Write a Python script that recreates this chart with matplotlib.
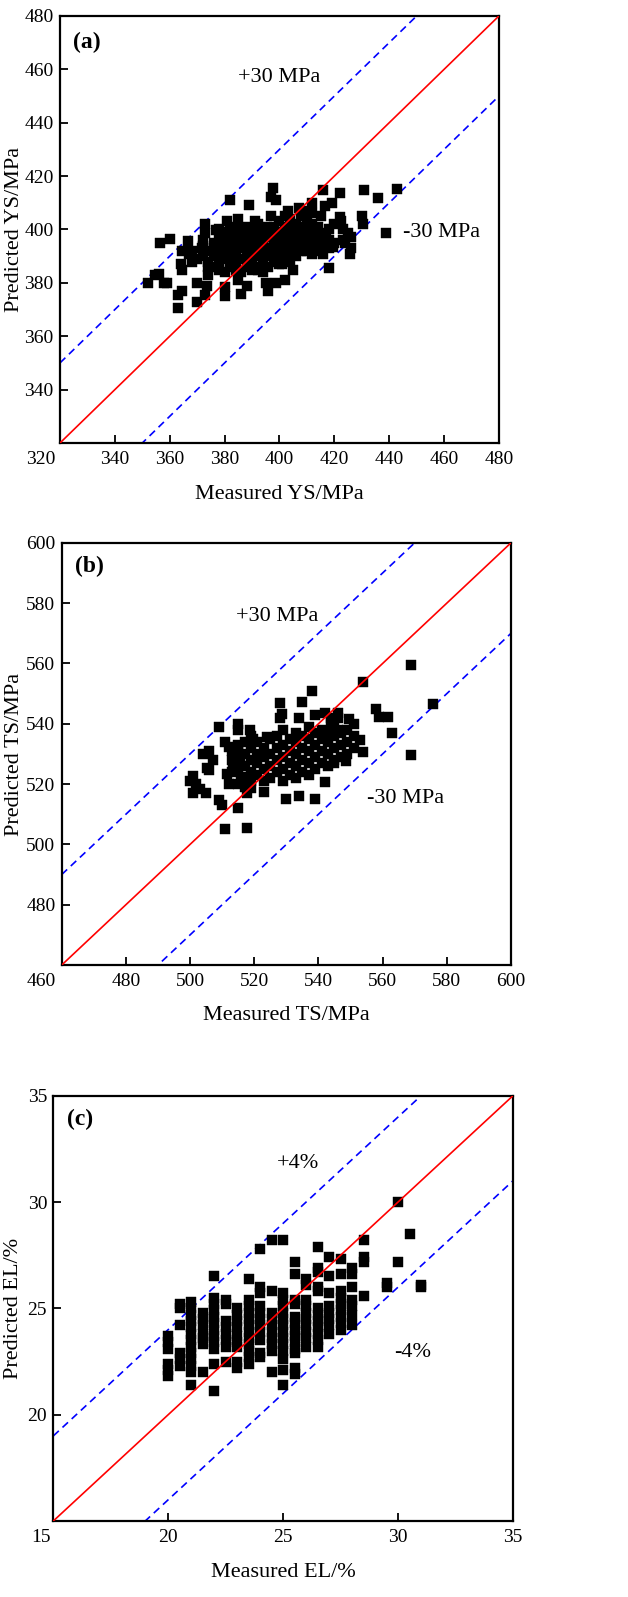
import matplotlib
matplotlib.use("Agg")
import matplotlib.pyplot as plt
from matplotlib.transforms import ScaledTranslation

plt.rcParams['font.family'] = ['Liberation Serif', 'DejaVu Serif']

# (a) yield strength, MPa
ys_meas = [352, 354.6, 356.5, 356, 358, 359, 360, 363, 363, 364.5, 364.3, 364, 364.5, 366.6, 367,
           370, 370, 370, 371.8, 373, 373, 373, 373.5, 374, 376, 377, 378, 380, 380, 380.7, 381, 382,
           383, 383, 385, 385, 386, 387, 388, 388.8, 390, 391, 392, 394, 395, 395.3, 396, 396.8, 396.8,
           397.8, 398.8, 398.8, 401, 402, 402, 403, 405, 407, 407.5, 410, 411.7, 413, 415, 415.7, 416.5,
           417, 418, 419, 419.6, 422, 422, 422.6, 424, 425, 425.7, 430, 430.5, 430.8, 435.8, 438.8, 442.7,
           # dense middle of the cloud
           368, 368, 372, 372, 372, 374, 374, 374, 376, 376, 376, 378, 378, 378, 378, 378,
           380, 380, 380, 380, 380, 382, 382, 382, 382, 382, 384, 384, 384, 384, 384, 384,
           386, 386, 386, 386, 386, 388, 388, 388, 388, 388, 390, 390, 390, 390, 390, 390,
           392, 392, 392, 392, 392, 392, 394, 394, 394, 394, 394, 396, 396, 396, 396, 396,
           398, 398, 398, 398, 398, 400, 400, 400, 400, 400, 400, 402, 402, 402, 402, 402,
           404, 404, 404, 404, 404, 404, 406, 406, 406, 406, 406, 408, 408, 408, 408, 408,
           410, 410, 410, 410, 410, 412, 412, 412, 412, 412, 414, 414, 414, 414, 416, 416, 416,
           418, 418, 418, 420, 420, 423, 423, 426, 426]
ys_pred = [380, 383, 395, 383.5, 380, 380, 396.6, 370.5, 375.5, 377, 385, 387, 392, 395.5, 391,
           373, 380, 389, 393, 402, 398.5, 375.5, 379, 386, 393, 399.7, 385, 375, 378.6, 391, 403, 411,
           398.5, 388.6, 404, 381, 376, 400, 379, 409, 392.5, 403, 385, 394, 380, 401, 377, 405, 412,
           415.4, 411, 380, 387, 381, 405, 407, 385, 408, 400, 392, 410, 392.5, 405, 414.8, 408.7,
           398.6, 385.6, 410, 393.6, 413.8, 404.8, 403, 395, 398.6, 391, 405, 402, 414.8, 411.7, 398.6, 415,
           388, 392, 390, 394, 396, 383, 388, 392, 386, 390, 395, 387, 391, 394, 397, 400,
           384, 389, 393, 396, 399, 386, 390, 394, 397, 400, 385, 388, 392, 395, 398, 401,
           384, 389, 393, 396, 399, 386, 390, 394, 397, 401, 385, 388, 391, 395, 398, 400,
           386, 390, 393, 396, 399, 402, 384, 388, 392, 395, 398, 386, 390, 393, 397, 400,
           388, 391, 394, 397, 401, 387, 390, 393, 396, 399, 403, 389, 392, 395, 398, 401,
           388, 391, 394, 397, 400, 404, 390, 393, 396, 399, 402, 392, 395, 398, 401, 405,
           394, 397, 400, 403, 407, 391, 396, 399, 402, 406, 392, 395, 398, 401, 391, 394, 397,
           393, 396, 400, 395, 402, 396, 400, 393, 397]

# (b) tensile strength, MPa
ts_meas = [500, 500.8, 502, 503, 500.8, 505, 504, 506, 505.4, 506, 507, 509, 509, 510, 511, 511,
           512, 511.6, 512, 513.5, 515, 515, 515, 515, 515.6, 516, 517.6, 517.8, 518.6, 519, 519.7,
           523, 524, 528, 528.7, 528, 530, 534, 534, 535, 538, 539, 539, 542, 542, 545, 546, 548.5,
           549.6, 552.8, 553.8, 553.8, 557.8, 558.9, 561.7, 563, 568.7, 568.7, 575.6,
           # dense middle of the cloud
           513, 513, 513, 515, 515, 515, 515, 517, 517, 517, 517, 517, 519, 519, 519, 519, 519,
           521, 521, 521, 521, 523, 523, 523, 523, 525, 525, 525, 525, 527, 527, 527, 527,
           529, 529, 529, 529, 529, 531, 531, 531, 531, 533, 533, 533, 533, 533, 535, 535, 535, 535,
           537, 537, 537, 537, 537, 539, 539, 539, 539, 541, 541, 541, 541, 543, 543, 543, 543,
           545, 545, 545, 545, 547, 547, 547, 549, 549, 549, 551, 551, 551, 544, 544, 546, 546]
ts_pred = [521, 522.7, 520, 518.5, 517, 517, 530, 531, 525.5, 524.6, 528, 539, 514.7, 513, 505, 534,
           532.4, 523.5, 520, 527, 512, 540, 538, 532.4, 528, 522.4, 517, 505.6, 538, 518.6, 535,
           517.5, 535.7, 547, 543.4, 541.8, 515, 516, 542, 547.3, 551, 515, 543, 520.8, 543.5, 527, 543.5, 527.6,
           541.5, 534.6, 530.7, 554, 545, 542.3, 542.3, 537, 559.4, 529.6, 546.7,
           524, 528, 531, 520, 525, 529, 533, 522, 526, 530, 534, 519, 521, 524, 528, 532, 536,
           523, 527, 530, 534, 521, 525, 529, 532, 522, 526, 530, 535, 524, 528, 532, 536,
           521, 525, 529, 533, 538, 523, 527, 531, 535, 522, 526, 530, 534, 537, 524, 528, 532, 536,
           523, 527, 531, 535, 539, 525, 529, 533, 537, 527, 531, 535, 538, 526, 530, 534, 537,
           528, 532, 536, 540, 529, 533, 537, 530, 534, 538, 532, 536, 540, 540, 542, 542, 538]

# (c) elongation, %
el_meas = [20, 20, 20, 20, 20, 20,
           20.5, 20.5, 20.5, 20.5, 20.5, 20.5,
           21, 21, 21, 21, 21, 21, 21, 21, 21, 21, 21, 21, 21,
           21.5, 21.5, 21.5, 21.5, 21.5, 21.5, 21.5,
           22, 22, 22, 22, 22, 22, 22, 22, 22, 22, 22, 22,
           22.5, 22.5, 22.5, 22.5, 22.5, 22.5, 22.5, 22.5,
           23, 23, 23, 23, 23, 23, 23, 23, 23,
           23.5, 23.5, 23.5, 23.5, 23.5, 23.5, 23.5, 23.5, 23.5, 23.5, 23.5, 23.5,
           24, 24, 24, 24, 24, 24, 24, 24, 24, 24, 24,
           24.5, 24.5, 24.5, 24.5, 24.5, 24.5, 24.5, 24.5, 24.5, 24.5,
           25, 25, 25, 25, 25, 25, 25, 25, 25, 25, 25, 25, 25, 25,
           25.5, 25.5, 25.5, 25.5, 25.5, 25.5, 25.5, 25.5, 25.5, 25.5, 25.5, 25.5, 25.5,
           26, 26, 26, 26, 26, 26, 26, 26, 26, 26,
           26.5, 26.5, 26.5, 26.5, 26.5, 26.5, 26.5, 26.5, 26.5, 26.5, 26.5, 26.5,
           27, 27, 27, 27, 27, 27, 27, 27,
           27.5, 27.5, 27.5, 27.5, 27.5, 27.5, 27.5, 27.5, 27.5,
           28, 28, 28, 28, 28, 28, 28,
           28.5, 28.5, 28.5, 28.5,
           29.5, 29.5, 30, 30, 30.5, 31, 31]
el_pred = [23.1, 23.4, 23.7, 21.8, 22.1, 22.4,
           25.0, 25.2, 24.2, 22.3, 22.6, 22.9,
           25.3, 25.0, 24.7, 24.4, 24.1, 23.8, 23.5, 23.2, 22.9, 22.6, 22.3, 22.0, 21.4,
           24.2, 24.5, 24.8, 23.3, 23.6, 23.8, 22.0,
           26.5, 25.5, 25.2, 24.9, 24.6, 24.3, 24.0, 23.7, 23.4, 23.1, 22.4, 21.1,
           25.2, 25.4, 24.4, 24.1, 23.8, 23.5, 23.2, 22.5,
           25.0, 24.7, 24.4, 24.1, 23.7, 23.4, 23.2, 22.5, 22.2,
           26.4, 25.4, 25.1, 24.8, 24.5, 24.2, 23.9, 23.6, 23.3, 23.0, 22.7, 22.4,
           27.8, 26.0, 25.7, 25.1, 24.8, 24.5, 24.2, 23.9, 23.5, 22.9, 22.7,
           28.2, 25.8, 24.8, 24.5, 24.2, 23.9, 23.6, 23.3, 23.0, 22.0,
           28.2, 25.7, 25.4, 25.1, 24.8, 24.5, 24.2, 23.9, 23.6, 23.3, 23.0, 22.6, 22.1, 21.4,
           27.2, 26.6, 25.4, 25.2, 24.6, 24.3, 24.0, 23.7, 23.4, 23.1, 22.9, 22.2, 21.9,
           26.4, 26.1, 25.4, 25.1, 24.8, 24.5, 24.2, 23.9, 23.6, 23.2,
           27.9, 26.9, 26.7, 26.0, 25.8, 25.0, 24.7, 24.4, 24.1, 23.8, 23.5, 23.2,
           27.4, 26.5, 25.7, 25.1, 24.8, 24.5, 24.2, 23.8,
           27.3, 26.6, 25.8, 25.5, 25.2, 24.9, 24.6, 24.3, 24.0,
           26.9, 26.6, 26.0, 25.4, 25.1, 24.7, 24.2,
           28.2, 27.2, 27.4, 25.6,
           26.0, 26.2, 30.0, 27.2, 28.5, 26.0, 26.1]


#   Draws one measured-vs-predicted panel with the y=x line and +/- band
def drawPanel(fig, rect, meas, pred, lim, xticks, yticks, band, name,
              xlabel, ylabel, plus_txt, plus_xy, minus_txt, minus_xy, label_xy,
              ylab_x, first_shift):
    ax = fig.add_axes(rect)
    lo, hi = lim

    # Reference lines
    ax.plot([lo, hi], [lo, hi], color='#ff0000', lw=1.2, zorder=3)
    ax.plot([lo, hi], [lo + band, hi + band], color='#0000ff', lw=1.2,
            linestyle=(0, (4.5, 3)), zorder=1)
    ax.plot([lo, hi], [lo - band, hi - band], color='#0000ff', lw=1.2,
            linestyle=(0, (4.5, 3)), zorder=1)

    # Data
    ax.plot(meas, pred, 's', color='black', ms=6.5, mec='black', mew=0.3, zorder=2)

    ax.set_xlim(lo, hi)
    ax.set_ylim(lo, hi)
    ax.set_xticks(xticks)
    ax.set_yticks(yticks)
    ax.tick_params(direction='in', length=5.5, width=1.3, labelsize=14,
                   top=False, right=False)
    ax.tick_params(axis='x', pad=6)
    ax.tick_params(axis='y', pad=4.5)
    for s in ax.spines.values():
        s.set_linewidth(1.6)

    ax.set_xlabel(xlabel, fontsize=16)
    ax.set_ylabel(ylabel, fontsize=16)
    ax.xaxis.set_label_coords(0.5, -0.098)
    ax.yaxis.set_label_coords(ylab_x, 0.5)

    ax.text(plus_xy[0], plus_xy[1], plus_txt, fontsize=16, ha='center', va='center')
    ax.text(minus_xy[0], minus_xy[1], minus_txt, fontsize=16, ha='center', va='center')
    ax.text(label_xy[0], label_xy[1], name, fontsize=17, fontweight='bold',
            ha='center', va='center')

    # The corner x label sits left of the corner in the original
    lab = ax.xaxis.get_major_ticks()[0].label1
    lab.set_transform(lab.get_transform() + ScaledTranslation(first_shift / 100.0, 0, fig.dpi_scale_trans))
    return ax


fig = plt.figure(figsize=(6.28, 15.97), dpi=100)

drawPanel(fig, [0.0955, 0.7226, 0.699, 0.2674], ys_meas, ys_pred, (320, 480),
          range(320, 481, 20), range(340, 481, 20), 30, '(a)',
          'Measured YS/MPa', 'Predicted YS/MPa',
          '+30 MPa', (400, 457), '-30 MPa', (459, 398.8), (329.7, 470),
          -0.082, -19)

drawPanel(fig, [0.0982, 0.3957, 0.7155, 0.2644], ts_meas, ts_pred, (460, 600),
          range(460, 601, 20), range(480, 601, 20), 30, '(b)',
          'Measured TS/MPa', 'Predicted TS/MPa',
          '+30 MPa', (527, 575.7), '-30 MPa', (567.3, 515.3), (468.8, 592.3),
          -0.084, -20)

drawPanel(fig, [0.0849, 0.0476, 0.732, 0.2663], el_meas, el_pred, (15, 35),
          range(15, 36, 5), range(20, 36, 5), 4, '(c)',
          'Measured EL/%', 'Predicted EL/%',
          '+4%', (25.66, 31.8), '-4%', (30.62, 22.9), (16.16, 33.9),
          -0.066, -12.6)

fig.savefig('out.png', dpi=100)
